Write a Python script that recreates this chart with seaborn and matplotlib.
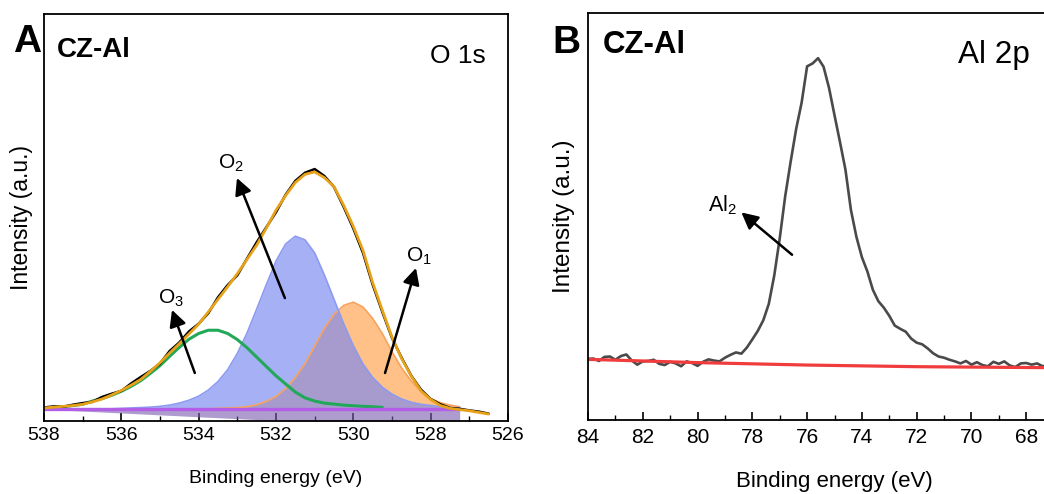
import matplotlib
matplotlib.use('Agg')
import matplotlib.pyplot as plt
from matplotlib.ticker import MultipleLocator
import numpy as np
import seaborn as sns

# ---- O 1s (panel A) ----
e_comp = [538.0, 537.75, 537.5, 537.25, 537.0, 536.75, 536.5, 536.25, 536.0, 535.75,
          535.5, 535.25, 535.0, 534.75, 534.5, 534.25, 534.0, 533.75, 533.5, 533.25,
          533.0, 532.75, 532.5, 532.25, 532.0, 531.75, 531.5, 531.25, 531.0, 530.75,
          530.5, 530.25, 530.0, 529.75, 529.5, 529.25, 529.0, 528.75, 528.5, 528.25,
          528.0, 527.75, 527.5, 527.25]
o2 = [2.9, 3.0, 3.0, 3.0, 3.0, 3.0, 3.0, 3.0, 3.1, 3.2,
      3.3, 3.4, 3.6, 3.9, 4.4, 5.1, 6.1, 7.6, 9.7, 12.6,
      16.6, 21.6, 27.5, 33.5, 39.3, 43.5, 45.4, 44.5, 41.3, 35.9,
      29.9, 23.9, 18.5, 14.0, 10.7, 8.3, 6.6, 5.4, 4.6, 4.1,
      3.8, 3.5, 3.3, 3.2]
o1 = [2.9, 2.9, 2.9, 2.9, 2.9, 2.9, 2.9, 2.9, 2.9, 2.9,
      2.9, 2.9, 2.9, 2.9, 2.9, 2.9, 3.0, 3.0, 3.1, 3.2,
      3.3, 3.5, 4.0, 4.8, 6.0, 8.0, 10.7, 14.1, 18.4, 22.8,
      26.2, 28.4, 29.2, 28.0, 25.2, 21.5, 17.0, 13.0, 9.8, 7.3,
      5.5, 4.5, 3.9, 3.5]
e_o3 = e_comp[:36]
o3 = [3.2, 3.35, 3.5, 3.8, 4.1, 4.9, 5.5, 6.3, 7.3, 8.5,
      9.9, 11.7, 13.6, 15.9, 18.1, 20.1, 21.5, 22.3, 22.3, 21.5,
      20.0, 18.0, 15.7, 13.4, 11.1, 9.1, 7.1, 5.7, 4.9, 4.4,
      4.15, 3.9, 3.75, 3.6, 3.5, 3.35]
bg_level = 2.9
bg_e = [538.0, 527.25]
bg_y = [2.9, 2.9]
bg_low = [2.9, -2.1]

e_tot = e_comp + [527.0, 526.75, 526.5]
envelope = [3.2, 3.4, 3.6, 3.8, 4.1, 4.7, 5.4, 6.4, 7.5, 8.8,
            10.2, 12.2, 14.3, 16.7, 19.0, 21.4, 23.8, 26.8, 29.9, 33.0,
            36.2, 39.7, 43.2, 47.4, 51.8, 55.4, 58.6, 60.6, 61.2, 59.8,
            57.6, 53.0, 47.8, 41.9, 34.0, 27.2, 20.6, 15.3, 11.0, 7.4,
            5.3, 3.8, 3.1, 2.8, 2.5, 2.1, 1.7]
raw_o = [3.3, 3.6, 3.5, 4.0, 4.4, 4.7, 5.9, 6.7, 7.4, 9.2,
         10.8, 12.3, 14.1, 17.2, 19.3, 22.0, 23.9, 26.5, 30.4, 33.4,
         35.8, 39.9, 43.9, 47.6, 51.3, 55.6, 59.0, 61.0, 61.9, 60.2,
         57.5, 52.6, 47.3, 41.3, 33.5, 26.8, 20.4, 15.5, 11.1, 7.7,
         5.4, 4.1, 3.2, 3.0, 2.6, 2.3, 1.8]
ticks_o = [538, 536, 534, 532, 530, 528, 526]

# ---- Al 2p (panel B) ----
e_al = [84.0, 83.8, 83.6, 83.4, 83.2, 83.0, 82.8, 82.6, 82.4, 82.2,
        82.0, 81.8, 81.6, 81.4, 81.2, 81.0, 80.8, 80.6, 80.4, 80.2,
        80.0, 79.8, 79.6, 79.4, 79.2, 79.0, 78.8, 78.6, 78.4, 78.2,
        78.0, 77.8, 77.6, 77.4, 77.2, 77.0, 76.8, 76.6, 76.4, 76.2,
        76.0, 75.8, 75.6, 75.4, 75.2, 75.0, 74.8, 74.6, 74.4, 74.2,
        74.0, 73.8, 73.6, 73.4, 73.2, 73.0, 72.8, 72.6, 72.4, 72.2,
        72.0, 71.8, 71.6, 71.4, 71.2, 71.0, 70.8, 70.6, 70.4, 70.2,
        70.0, 69.8, 69.6, 69.4, 69.2, 69.0, 68.8, 68.6, 68.4, 68.2,
        68.0, 67.8, 67.6, 67.4, 67.2]
al_raw = [15.0, 15.1, 14.5, 15.5, 15.6, 14.8, 15.7, 16.1, 14.6, 13.6,
          14.4, 14.5, 14.8, 13.8, 13.5, 14.3, 13.9, 13.2, 14.4, 14.0,
          13.3, 14.3, 14.9, 14.6, 14.4, 15.3, 16.0, 16.6, 16.3, 17.8,
          19.8, 21.9, 24.5, 28.5, 35.5, 44.6, 55.0, 63.5, 71.5, 78.0,
          86.9, 87.6, 88.9, 86.8, 81.6, 74.9, 68.3, 61.5, 51.6, 45.0,
          40.0, 36.5, 32.0, 29.2, 27.6, 25.6, 23.2, 22.4, 21.7, 20.0,
          19.0, 18.6, 17.6, 16.4, 15.6, 15.3, 14.8, 14.4, 13.9, 14.5,
          13.6, 14.2, 13.5, 13.2, 14.3, 13.8, 14.4, 13.4, 13.0, 13.9,
          14.0, 13.6, 13.9, 13.2, 13.5]
al_bg_e = [84.0, 80.0, 76.0, 72.0, 66.0]
al_bg = [14.9, 14.1, 13.5, 13.1, 12.8]
ticks_al = [84, 82, 80, 78, 76, 74, 72, 70, 68]

sns.set_style('white')
plt.rcParams['font.family'] = ['Liberation Sans', 'DejaVu Sans']
plt.rcParams['mathtext.default'] = 'regular'
plt.rcParams['text.color'] = 'black'
plt.rcParams['axes.labelcolor'] = 'black'
plt.rcParams['xtick.color'] = 'black'

W, H = 1044, 494
fig = plt.figure(figsize=(W / 100, H / 100), dpi=100)
fig.patch.set_facecolor('white')
axA = fig.add_axes([44 / W, (H - 421) / H, 464 / W, 407 / H])
axB = fig.add_axes([588 / W, (H - 420) / H, 493 / W, 407 / H])

# panel A
axA.fill_between(e_comp, o1, bg_level, color='#ffbe82', alpha=0.95, lw=0)
sns.lineplot(x=e_comp, y=o1, ax=axA, color='#f7a35c', lw=1.2)
axA.fill_between(e_comp, o2, bg_level, color='#7988f0', alpha=0.66, lw=0)
sns.lineplot(x=e_comp, y=o2, ax=axA, color='#8c9af2', lw=1.2)
sns.lineplot(x=e_o3, y=o3, ax=axA, color='#22a859', lw=2.2)
axA.fill_between(bg_e, bg_y, bg_low, color='#7a5bb0', alpha=0.6, lw=0)
sns.lineplot(x=bg_e, y=bg_y, ax=axA, color='#b25ee6', lw=2.4)
sns.lineplot(x=e_tot, y=raw_o, ax=axA, color='black', lw=1.8)
sns.lineplot(x=e_tot, y=envelope, ax=axA, color='#e8a21a', lw=2.0)

axA.set_xlim(538, 526)
axA.set_ylim(0, 100)
axA.set_xticks(ticks_o)

arrow = dict(arrowstyle='-|>,head_length=0.55,head_width=0.28', color='black',
             lw=1.8, mutation_scale=18, shrinkA=0, shrinkB=0)
axA.annotate('', xy=(533.01, 59.7), xytext=(531.77, 30.2), arrowprops=arrow)
axA.annotate('', xy=(528.38, 37.6), xytext=(529.18, 11.8), arrowprops=arrow)
axA.annotate('', xy=(534.69, 27.3), xytext=(534.10, 11.8), arrowprops=arrow)
axA.text(533.16, 63.2, 'O$_2$', fontsize=15, ha='center', va='center')
axA.text(528.30, 40.5, 'O$_1$', fontsize=15, ha='center', va='center')
axA.text(534.72, 30.2, 'O$_3$', fontsize=15, ha='center', va='center')

# panel B
sns.lineplot(x=e_al, y=al_raw, ax=axB, color='#4a4a4a', lw=1.9)
sns.lineplot(x=al_bg_e, y=al_bg, ax=axB, color='#f03c3c', lw=2.3)
axB.set_xlim(84, 66)
axB.set_ylim(0, 100)
axB.set_xticks(ticks_al)
axB.annotate('', xy=(78.4, 51.0), xytext=(76.55, 40.6), arrowprops=arrow)
axB.text(79.09, 52.7, 'Al$_2$', fontsize=15.5, ha='center', va='center')

for ax, tfs, lfs, yfs, lx, pad, lpad in [(axA, 14, 14, 16.5, -0.024, 4, 19),
                                         (axB, 15, 16, 17.5, -0.026, 6, 17)]:
    ax.xaxis.set_minor_locator(MultipleLocator(1))
    ax.tick_params(axis='x', which='major', direction='in', length=6, width=1.2,
                   labelsize=tfs, pad=pad, bottom=True, colors='black')
    ax.tick_params(axis='x', which='minor', direction='in', length=3.5, width=1.0,
                   bottom=True)
    ax.set_yticks([])
    for s in ax.spines.values():
        s.set_color('black')
        s.set_linewidth(1.3)
    ax.set_xlabel('Binding energy (eV)', fontsize=lfs, labelpad=lpad)
    ax.set_ylabel('Intensity (a.u.)', fontsize=yfs)
    ax.yaxis.set_label_coords(lx, 0.5)
    ax.set_facecolor('white')

fig.text(13 / W, (H - 52) / H, 'A', fontsize=28, fontweight='bold', va='baseline')
fig.text(552 / W, (H - 53) / H, 'B', fontsize=28, fontweight='bold', va='baseline')
fig.text(57 / W, (H - 57) / H, 'CZ-Al', fontsize=20, fontweight='bold', va='baseline')
fig.text(603 / W, (H - 53) / H, 'CZ-Al', fontsize=22.5, fontweight='bold', va='baseline')
fig.text(430 / W, (H - 63) / H, 'O 1s', fontsize=19, va='baseline')
fig.text(958 / W, (H - 63) / H, 'Al 2p', fontsize=22.7, va='baseline')

fig.savefig('out.png', dpi=100, facecolor='white')
